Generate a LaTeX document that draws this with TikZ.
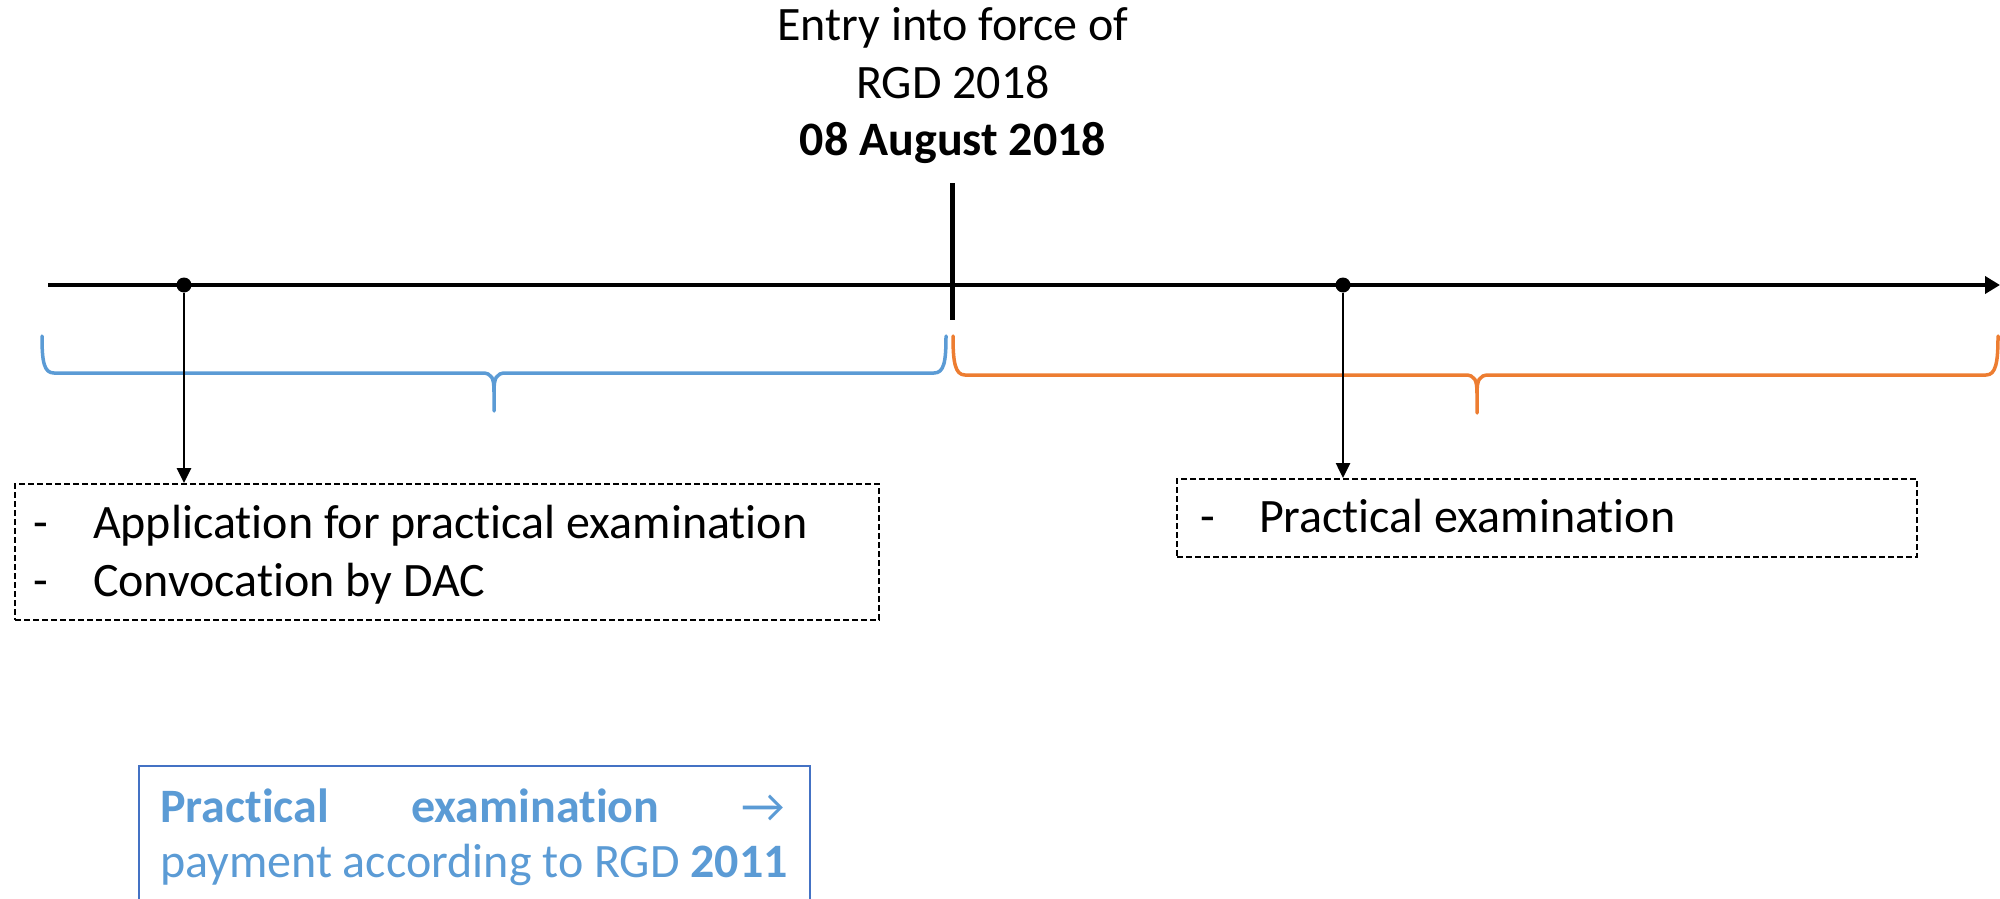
\documentclass[tikz,border=0pt]{standalone}
\usepackage{fontspec}
\setmainfont{Carlito}[Ligatures=NoCommon]
\usetikzlibrary{arrows.meta}
\definecolor{bblue}{HTML}{5B9BD5}
\definecolor{bframe}{HTML}{4472C4}
\definecolor{borange}{HTML}{ED7D31}
\begin{document}
\begin{tikzpicture}[x=1pt,y=-1pt,
  txt/.style={font=\fontsize{48}{58}\selectfont, inner sep=0pt, outer sep=0pt},
  dot/.style={circle, fill=black, minimum size=15pt, inner sep=0pt},
  dbox/.style={draw=black, dash pattern=on 6pt off 3pt, line width=2pt, rectangle, inner sep=0pt, anchor=north west},
  conn/.style={line width=2.6pt, -{Triangle[length=15pt,width=14pt]}},
  bracepath/.style={line width=3.5pt, line cap=round, line join=round},
]
\useasboundingbox (0,0) rectangle (2000,899);
\clip (0,0) rectangle (2000,899);

% title
\node[txt, anchor=base] (t1) at (953,41) {Entry into force of};
\node[txt, anchor=base] (t2) at (953,98) {RGD 2018};
\node[txt, anchor=base] (t3) at (953,155) {\textbf{08 August 2018}};

% timeline
\coordinate (tl0) at (48,285);
\coordinate (tl1) at (2000,285);
\draw[line width=4.5pt, -{Triangle[length=15pt,width=17pt]}] (tl0) -- (tl1);
\coordinate (tk0) at (952,183);
\coordinate (tk1) at (952,320);
\draw[line width=5pt] (tk0) -- (tk1);

% braces
\draw[bracepath, bblue] (42,336) .. controls (42,362) and (44,373) .. (54,373) -- (482,373)
  .. controls (492,373) and (494,378) .. (494,392) -- (494,411)
  (946,336) .. controls (946,362) and (944,373) .. (934,373) -- (506,373)
  .. controls (496,373) and (494,378) .. (494,392);
\draw[bracepath, borange] (953,336) .. controls (953,362) and (955,375) .. (965,375) -- (1465,375)
  .. controls (1475,375) and (1477,380) .. (1477,394) -- (1477,413)
  (1998,336) .. controls (1998,362) and (1996,375) .. (1986,375) -- (1489,375)
  .. controls (1479,375) and (1477,380) .. (1477,394);

% dots
\node[dot] (d1) at (184,285) {};
\node[dot] (d2) at (1343,285) {};

% boxes
\node[dbox, minimum width=864pt, minimum height=136pt] (b1) at (14,483) {};
\node[dbox, minimum width=740pt, minimum height=78pt] (b2) at (1176,478) {};

\node[txt, anchor=base west] (b1d1) at (34,538) {-};
\node[txt, anchor=base west] (b1l1) at (93,538) {Application for practical examination};
\node[txt, anchor=base west] (b1d2) at (34,596) {-};
\node[txt, anchor=base west] (b1l2) at (93,596) {Convocation by DAC};

\node[txt, anchor=base west] (b2d1) at (1200,532) {-};
\node[txt, anchor=base west] (b2l1) at (1259,532) {Practical examination};

% connectors
\draw[conn] (d1) -- (d1 |- b1.north);
\draw[conn] (d2) -- (d2 |- b2.north);

% blue note box
\node[draw=bframe, line width=2pt, anchor=north west, minimum width=671pt, minimum height=200pt, inner sep=0pt] (b3) at (138,765) {};
\node[txt, text=bblue, anchor=base west] (b3l1) at (160,822) {\hbox to 625pt{\textbf{Practical}\hfill\textbf{examination}\hfill →}};
\node[txt, text=bblue, anchor=base west] (b3l2) at (160,877) {payment according to RGD \textbf{2011}};
\end{tikzpicture}
\end{document}
